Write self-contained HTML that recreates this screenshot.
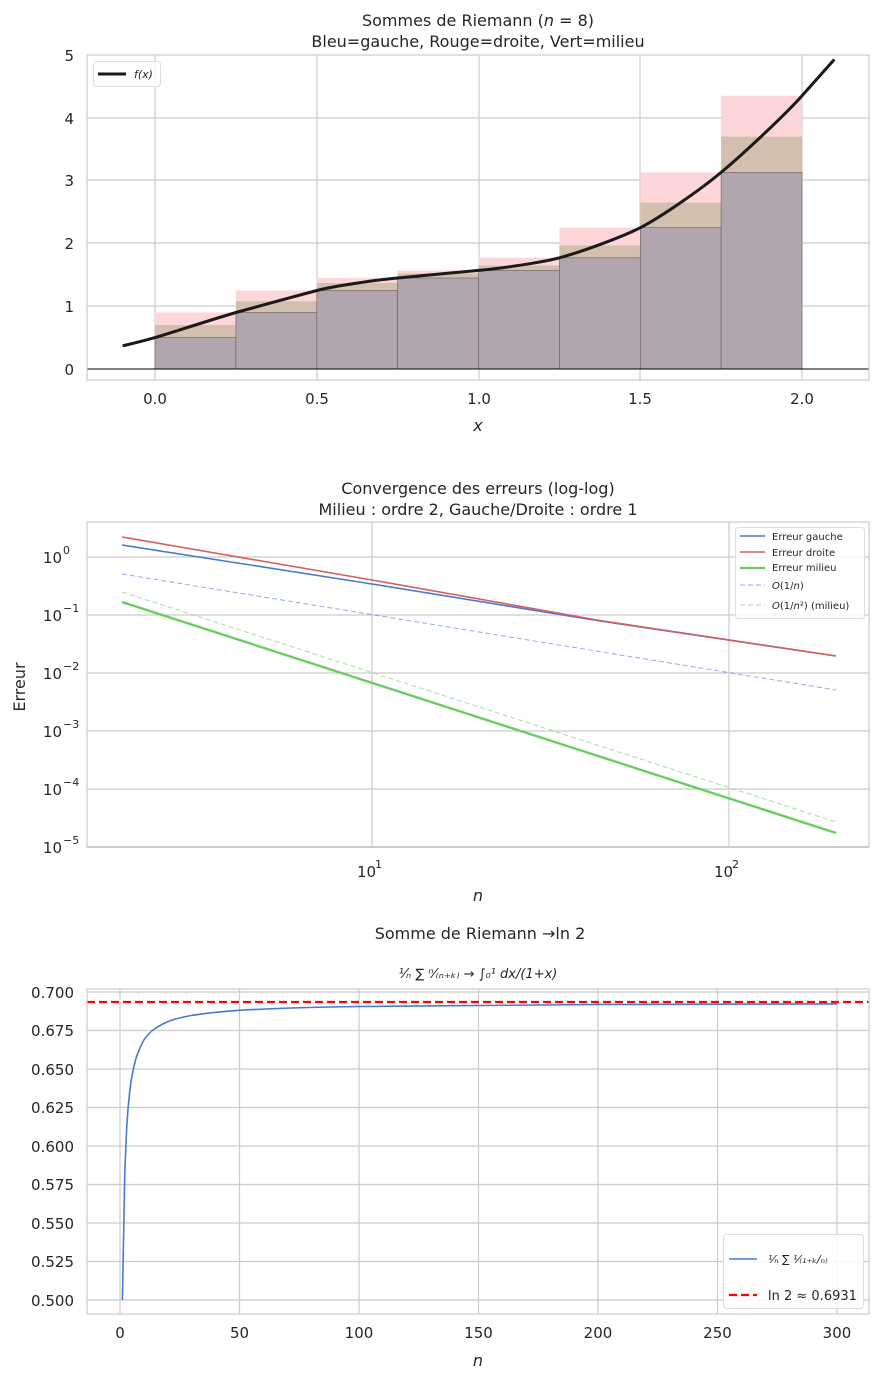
<!DOCTYPE html>
<html><head><meta charset="utf-8"><style>
body{margin:0;background:#fff}
svg{display:block;font-family:"DejaVu Sans","Liberation Sans",sans-serif;fill:#262626}
.g{stroke:#cccccc;stroke-width:1.2;fill:none}
.t{font-size:15px}
.ti{font-size:16px}
</style></head><body>
<svg width="880" height="1380" viewBox="0 0 880 1380" xmlns="http://www.w3.org/2000/svg">
<!-- Panel 1 -->
<text x="478" y="26" text-anchor="middle" class="ti">Sommes de Riemann (<tspan font-style="italic">n</tspan> = 8)</text>
<text x="478" y="47" text-anchor="middle" class="ti">Bleu=gauche, Rouge=droite, Vert=milieu</text>
<g class="g">
<line x1="155" y1="55" x2="155" y2="380"/><line x1="317" y1="55" x2="317" y2="380"/><line x1="479" y1="55" x2="479" y2="380"/><line x1="640" y1="55" x2="640" y2="380"/><line x1="802" y1="55" x2="802" y2="380"/>
<line x1="87" y1="306" x2="869" y2="306"/><line x1="87" y1="243" x2="869" y2="243"/><line x1="87" y1="180" x2="869" y2="180"/><line x1="87" y1="118" x2="869" y2="118"/>
</g>
<g fill="#fdd6d9">
<rect x="155" y="312.5" width="80.9" height="56.5"/><rect x="235.9" y="290.5" width="80.9" height="78.5"/><rect x="316.8" y="278" width="80.8" height="91"/><rect x="397.6" y="270.4" width="80.9" height="98.6"/><rect x="478.5" y="257.8" width="80.9" height="111.2"/><rect x="559.4" y="227.7" width="80.9" height="141.3"/><rect x="640.3" y="172.4" width="80.8" height="196.6"/><rect x="721.1" y="95.8" width="80.9" height="273.2"/>
</g>
<g fill="#d3bfae">
<rect x="155" y="325" width="80.9" height="44"/><rect x="235.9" y="301.2" width="80.9" height="67.8"/><rect x="316.8" y="283" width="80.8" height="86"/><rect x="397.6" y="273.5" width="80.9" height="95.5"/><rect x="478.5" y="265.4" width="80.9" height="103.6"/><rect x="559.4" y="245.3" width="80.9" height="123.7"/><rect x="640.3" y="202.6" width="80.8" height="166.4"/><rect x="721.1" y="136.6" width="80.9" height="232.4"/>
</g>
<g fill="#b1a6ad" stroke="#6e5a58" stroke-width="0.6">
<rect x="155" y="337.6" width="80.9" height="31.4"/><rect x="235.9" y="312.5" width="80.9" height="56.5"/><rect x="316.8" y="290.5" width="80.8" height="78.5"/><rect x="397.6" y="278" width="80.9" height="91"/><rect x="478.5" y="270.4" width="80.9" height="98.6"/><rect x="559.4" y="257.8" width="80.9" height="111.2"/><rect x="640.3" y="227.7" width="80.8" height="141.3"/><rect x="721.1" y="172.4" width="80.9" height="196.6"/>
</g>
<line x1="87" y1="369" x2="869" y2="369" stroke="#000" stroke-width="1"/>
<path fill="none" stroke="#1a1a1a" stroke-width="3" stroke-linejoin="round" d="M122.6,345.8 C135,343 145,340.5 155,337.6 S220,317 235.9,312.5 S300,295 316.8,290.5 S380,279.5 397.6,278 S460,272 478.5,270.4 S540,263 559.4,257.8 S620,238 640.3,227.7 S700,190 721.1,172.4 S785,115 802,95.8 S825,70 834.4,59.4"/>
<rect x="87" y="55" width="782" height="325" fill="none" stroke="#cccccc" stroke-width="1.2"/>
<rect x="93.5" y="61.5" width="67" height="25" rx="3" fill="#fff" fill-opacity="0.8" stroke="#ddd"/>
<line x1="98" y1="74" x2="126" y2="74" stroke="#1a1a1a" stroke-width="3"/>
<text x="134" y="78" font-size="11" font-style="italic">f(x)</text>
<g class="t" text-anchor="end"><text x="74" y="375">0</text><text x="74" y="312">1</text><text x="74" y="249">2</text><text x="74" y="186">3</text><text x="74" y="124">4</text><text x="74" y="61">5</text></g>
<g class="t" text-anchor="middle"><text x="155" y="404">0.0</text><text x="317" y="404">0.5</text><text x="479" y="404">1.0</text><text x="640" y="404">1.5</text><text x="802" y="404">2.0</text></g>
<text x="478" y="431" text-anchor="middle" class="ti" font-style="italic">x</text>

<!-- Panel 2 -->
<text x="478" y="494" text-anchor="middle" class="ti">Convergence des erreurs (log-log)</text>
<text x="478" y="515" text-anchor="middle" class="ti">Milieu : ordre 2, Gauche/Droite : ordre 1</text>
<g class="g">
<line x1="372" y1="522" x2="372" y2="847"/><line x1="729" y1="522" x2="729" y2="847"/>
<line x1="87" y1="557" x2="869" y2="557"/><line x1="87" y1="615" x2="869" y2="615"/><line x1="87" y1="673" x2="869" y2="673"/><line x1="87" y1="731" x2="869" y2="731"/><line x1="87" y1="789" x2="869" y2="789"/>
</g>
<line x1="122" y1="574" x2="836" y2="690" stroke="#4878d0" stroke-opacity="0.6" stroke-width="1" stroke-dasharray="5,3"/>
<line x1="122" y1="592" x2="836" y2="822" stroke="#6acc64" stroke-opacity="0.6" stroke-width="1" stroke-dasharray="5,3"/>
<polyline fill="none" stroke="#4878d0" stroke-width="1.6" points="122,545 372,584 600,621 836,656"/>
<polyline fill="none" stroke="#d65f5f" stroke-width="1.6" points="122,537 372,580 600,620.5 836,656"/>
<line x1="122" y1="602" x2="836" y2="833" stroke="#6acc64" stroke-width="2.4"/>
<rect x="87" y="522" width="782" height="325" fill="none" stroke="#cccccc" stroke-width="1.2"/>
<line x1="87" y1="847" x2="869" y2="847" stroke="#ccc" stroke-width="2"/>
<rect x="735.5" y="527.5" width="129" height="91" rx="3" fill="#fff" fill-opacity="0.85" stroke="#ddd"/>
<g font-size="10">
<line x1="740" y1="536" x2="765" y2="536" stroke="#4878d0" stroke-width="1.6"/><text x="772" y="540">Erreur gauche</text>
<line x1="740" y1="552" x2="765" y2="552" stroke="#d65f5f" stroke-width="1.6"/><text x="772" y="556">Erreur droite</text>
<line x1="740" y1="568" x2="765" y2="568" stroke="#6acc64" stroke-width="2.2"/><text x="772" y="571">Erreur milieu</text>
<line x1="740" y1="585" x2="765" y2="585" stroke="#4878d0" stroke-opacity="0.6" stroke-dasharray="5,3"/><text x="772" y="589"><tspan font-style="italic">O</tspan>(1/<tspan font-style="italic">n</tspan>)</text>
<line x1="740" y1="605" x2="765" y2="605" stroke="#6acc64" stroke-opacity="0.6" stroke-dasharray="5,3"/><text x="772" y="609"><tspan font-style="italic">O</tspan>(1/<tspan font-style="italic">n</tspan>²) (milieu)</text>
</g>
<g class="t" text-anchor="end">
<text x="62" y="563">10</text><text x="62" y="621">10</text><text x="62" y="679">10</text><text x="62" y="737">10</text><text x="62" y="795">10</text><text x="62" y="853">10</text>
</g>
<g font-size="11"><text x="63" y="554">0</text><text x="63" y="612">−1</text><text x="63" y="670">−2</text><text x="63" y="728">−3</text><text x="63" y="786">−4</text><text x="63" y="844">−5</text></g>
<text x="357" y="877" class="t">10</text><text x="375" y="868" font-size="11">1</text>
<text x="714" y="877" class="t">10</text><text x="732" y="868" font-size="11">2</text>
<text x="478" y="901" text-anchor="middle" class="ti" font-style="italic">n</text>
<text transform="translate(25,687) rotate(-90)" text-anchor="middle" class="ti">Erreur</text>

<!-- Panel 3 -->
<text x="480" y="939" text-anchor="middle" class="ti">Somme de Riemann →ln 2</text>
<text x="478" y="978" text-anchor="middle" font-size="13" font-style="italic">¹⁄ₙ ∑ ⁿ⁄₍ₙ₊ₖ₎ → ∫₀¹ dx/(1+x)</text>
<g class="g">
<line x1="120" y1="989" x2="120" y2="1314"/><line x1="239.5" y1="989" x2="239.5" y2="1314"/><line x1="359" y1="989" x2="359" y2="1314"/><line x1="478.5" y1="989" x2="478.5" y2="1314"/><line x1="598" y1="989" x2="598" y2="1314"/><line x1="717.5" y1="989" x2="717.5" y2="1314"/><line x1="837" y1="989" x2="837" y2="1314"/>
<line x1="87" y1="1300" x2="869" y2="1300"/><line x1="87" y1="1261.5" x2="869" y2="1261.5"/><line x1="87" y1="1223" x2="869" y2="1223"/><line x1="87" y1="1184.5" x2="869" y2="1184.5"/><line x1="87" y1="1146" x2="869" y2="1146"/><line x1="87" y1="1107.5" x2="869" y2="1107.5"/><line x1="87" y1="1069" x2="869" y2="1069"/><line x1="87" y1="1030.5" x2="869" y2="1030.5"/><line x1="87" y1="992" x2="869" y2="992"/>
</g>
<path fill="none" stroke="#4878d0" stroke-width="1.6" d="M122.4,1300 L124.8,1171.7 C125.8,1150 126.4,1130 127.2,1120.3 C128,1108 128.8,1100 129.6,1092.9 C130.5,1086 131,1080 132,1075.8 C134,1066 135,1061 136.7,1056.2 C139,1050 141,1045 143.9,1040 C148,1034 151,1031 155.9,1028 C160,1025.5 163,1023.5 167.8,1021.6 C176,1018.5 183,1017 191.7,1015.4 C207,1013 222,1011.5 239.5,1010.3 C280,1008 320,1007 359,1006.5 C440,1005.5 520,1005 598,1004.5 C680,1004.2 760,1004 837,1003.9"/>
<line x1="87" y1="1002" x2="869" y2="1002" stroke="#ff0000" stroke-width="2.2" stroke-dasharray="8,4"/>
<rect x="87" y="989" width="782" height="325" fill="none" stroke="#cccccc" stroke-width="1.2"/>
<rect x="723.5" y="1234.5" width="140" height="74" rx="3" fill="#fff" fill-opacity="0.85" stroke="#ddd"/>
<line x1="729" y1="1259" x2="757" y2="1259" stroke="#4878d0" stroke-width="1.6"/>
<text x="768" y="1263" font-size="11" font-style="italic">¹⁄ₙ ∑ ¹⁄₍₁₊ₖ/ₙ₎</text>
<line x1="729" y1="1295" x2="757" y2="1295" stroke="#ff0000" stroke-width="2.2" stroke-dasharray="8,4"/>
<text x="768" y="1300" font-size="13">ln 2 ≈ 0.6931</text>
<g class="t" text-anchor="end">
<text x="74" y="1306">0.500</text><text x="74" y="1267">0.525</text><text x="74" y="1229">0.550</text><text x="74" y="1190">0.575</text><text x="74" y="1152">0.600</text><text x="74" y="1113">0.625</text><text x="74" y="1075">0.650</text><text x="74" y="1036">0.675</text><text x="74" y="998">0.700</text>
</g>
<g class="t" text-anchor="middle"><text x="120" y="1338">0</text><text x="239.5" y="1338">50</text><text x="359" y="1338">100</text><text x="478.5" y="1338">150</text><text x="598" y="1338">200</text><text x="717.5" y="1338">250</text><text x="837" y="1338">300</text></g>
<text x="478" y="1366" text-anchor="middle" class="ti" font-style="italic">n</text>
</svg>
</body></html>
